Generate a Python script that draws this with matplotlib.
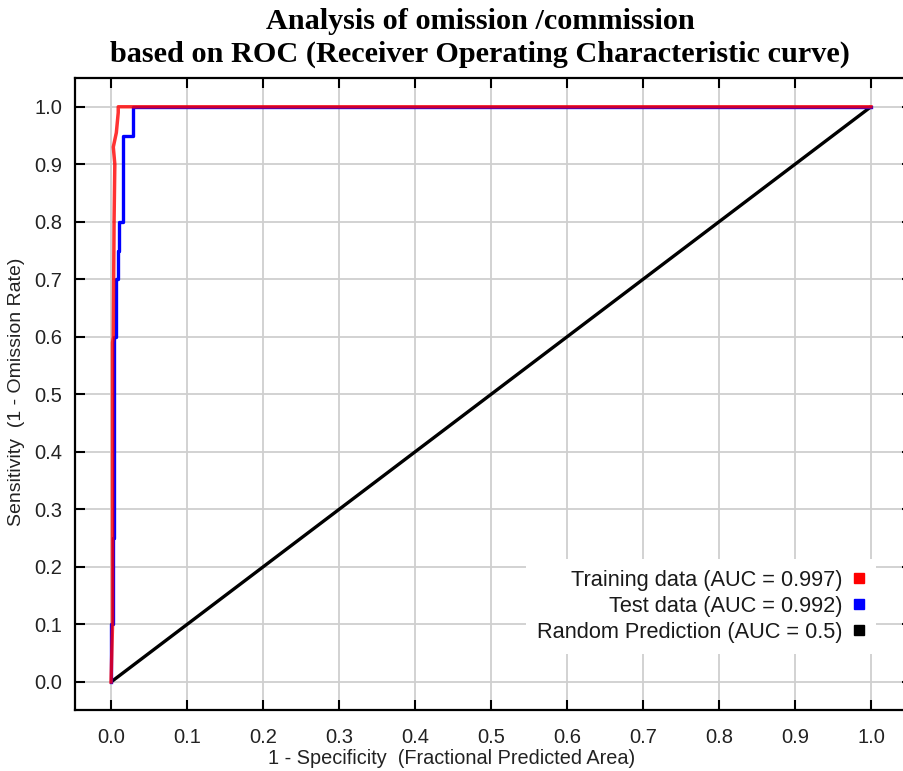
import matplotlib
matplotlib.use("Agg")
import matplotlib.pyplot as plt
from matplotlib.lines import Line2D

# ROC vertices (1 - specificity, sensitivity)
train_fpr = [0.0, 0.001, 0.002, 0.002, 0.003, 0.004, 0.005, 0.003, 0.007, 0.0095, 0.0095, 1.0]
train_tpr = [0.0, 0.05, 0.10, 0.59, 0.60, 0.80, 0.90, 0.93, 0.955, 0.99, 1.0, 1.0]

test_fpr = [0.0, 0.0, 0.002, 0.002, 0.004, 0.004, 0.006, 0.006, 0.0095, 0.0095,
            0.011, 0.011, 0.0135, 0.0135, 0.016, 0.016, 0.029, 0.029, 1.0]
test_tpr = [0.0, 0.10, 0.10, 0.25, 0.25, 0.60, 0.60, 0.70, 0.70, 0.75,
            0.75, 0.80, 0.80, 0.80, 0.80, 0.95, 0.95, 1.0, 1.0]

random_fpr = [0.0, 1.0]
random_tpr = [0.0, 1.0]

series_labels = ["Training data (AUC = 0.997)",
                 "Test data (AUC = 0.992)",
                 "Random Prediction (AUC = 0.5)"]
series_colors = ["#ff0000", "#0000ff", "#000000"]

ticks = [0.0, 0.1, 0.2, 0.3, 0.4, 0.5, 0.6, 0.7, 0.8, 0.9, 1.0]
tick_labels = ["0.0", "0.1", "0.2", "0.3", "0.4", "0.5", "0.6", "0.7", "0.8", "0.9", "1.0"]

title_lines = "Analysis of omission /commission\nbased on ROC (Receiver Operating Characteristic curve)"
xlabel = "1 - Specificity  (Fractional Predicted Area)"
ylabel = "Sensitivity  (1 - Omission Rate)"

W, H = 904, 771
fig = plt.figure(figsize=(W / 100, H / 100), dpi=100)
sans = "Liberation Sans"

# axes box in pixels: left 75, top 78, bottom 710, right just past the edge
left, right, top, bottom = 75, 912, 78, 710
ax = fig.add_axes([left / W, 1 - bottom / H, (right - left) / W, (bottom - top) / H])
ax.set_xlim(-0.0474, 1.054)
ax.set_ylim(-0.0487, 1.050)

ax.grid(True, color="#cfcfcf", linewidth=1.3, zorder=0)
ax.set_axisbelow(True)

ax.plot(random_fpr, random_tpr, color=series_colors[2], linewidth=2.4, zorder=3,
        solid_capstyle="butt")
ax.plot(test_fpr, test_tpr, color=series_colors[1], linewidth=2.4, zorder=4)
ax.plot(train_fpr, train_tpr, color=series_colors[0], linewidth=2.5, alpha=0.8, zorder=5)

ax.set_xticks(ticks)
ax.set_xticklabels(tick_labels)
ax.set_yticks(ticks)
ax.set_yticklabels(tick_labels)
ax.tick_params(axis="both", direction="in", length=7, width=1.5, labelsize=14.5,
               labelcolor="#222222", top=True, right=True)
ax.tick_params(axis="x", pad=13)
ax.tick_params(axis="y", pad=9)
for lab in ax.get_xticklabels() + ax.get_yticklabels():
    lab.set_family(sans)
for s in ax.spines.values():
    s.set_linewidth(1.6)

handles = [Line2D([], [], linestyle="none", marker="s", markersize=7,
                  markerfacecolor=c, markeredgecolor=c) for c in series_colors]
leg = ax.legend(handles, series_labels, loc="lower right",
                bbox_to_anchor=(876 / W, 1 - 654 / H), bbox_transform=fig.transFigure,
                frameon=True, fancybox=False, edgecolor="none", facecolor="white",
                framealpha=1.0, markerfirst=False, handlelength=0.6, handletextpad=0.45,
                labelspacing=0.24, borderpad=0.5, borderaxespad=0.0,
                prop={"family": sans, "size": 15.7})
for t in leg.get_texts():
    t.set_ha("right")
    t.set_color("#1a1a1a")
leg._legend_box.align = "right"

fig.text(480 / W, 1 - 38 / H, title_lines, ha="center", va="center", fontsize=21.8,
         fontweight="bold", family="Liberation Serif", linespacing=1.28)
fig.text(452 / W, 1 - 759 / H, xlabel, ha="center", va="center", fontsize=14.3,
         family=sans, color="#222222")
fig.text(17 / W, 1 - 392 / H, ylabel, ha="center", va="center", rotation=90,
         fontsize=14, family=sans, color="#222222")

fig.savefig("out.png", dpi=100)
